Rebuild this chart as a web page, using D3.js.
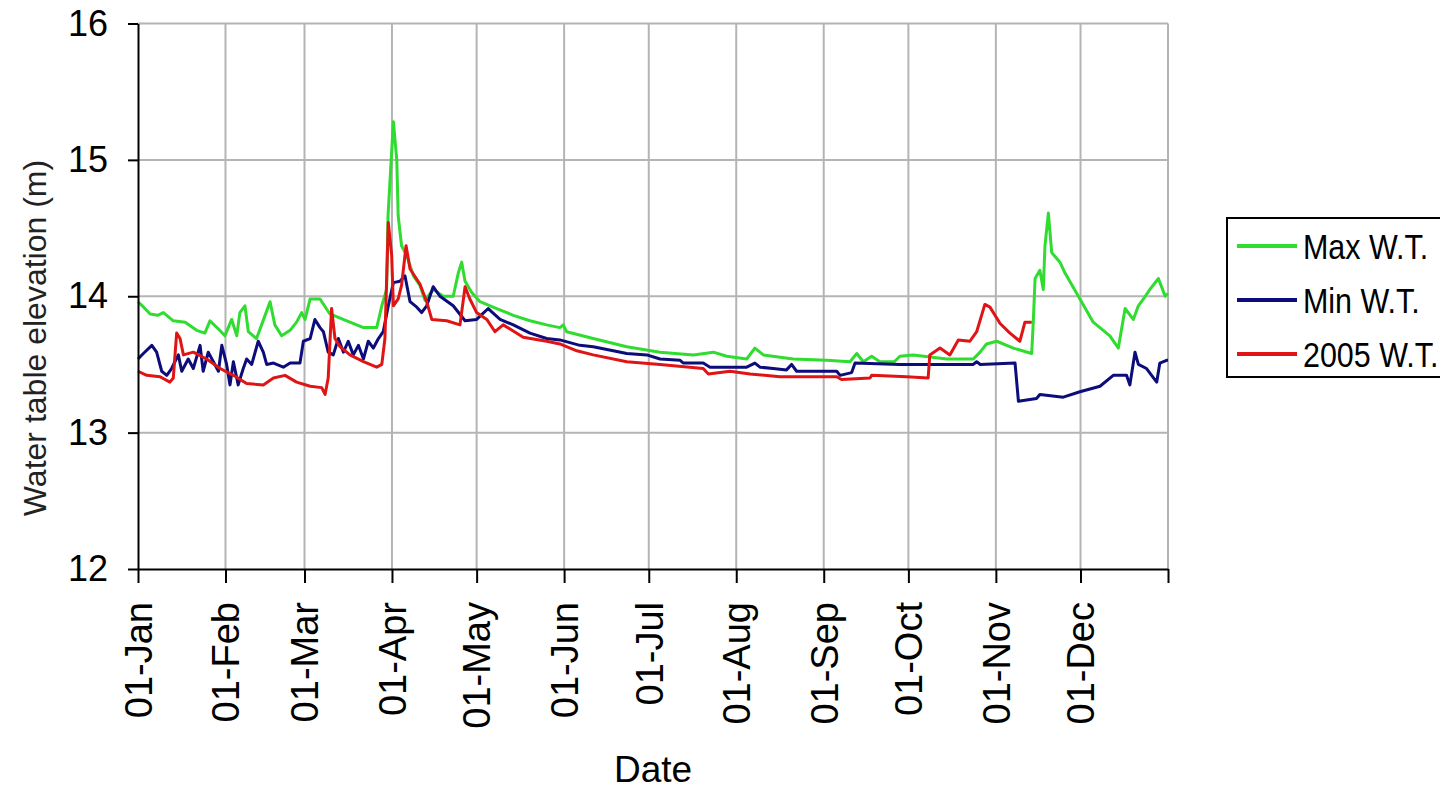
<!DOCTYPE html>
<html>
<head>
<meta charset="utf-8">
<script src="https://cdn.jsdelivr.net/npm/d3@7"></script>
<style>
  body { margin: 0; background: #fff; }
  svg { display: block; font-family: "Liberation Sans", Arial, sans-serif; }
</style>
</head>
<body>
<div id="chart"></div>
<script>
// day of year (0 = 01-Jan) -> water table elevation (m)
const monthStarts = [0, 31, 59, 90, 120, 151, 181, 212, 243, 273, 304, 334];
const monthLabels = ['01-Jan', '01-Feb', '01-Mar', '01-Apr', '01-May', '01-Jun',
  '01-Jul', '01-Aug', '01-Sep', '01-Oct', '01-Nov', '01-Dec'];
const yTicks = [12, 13, 14, 15, 16];

const maxWT = [
  [0, 13.96], [2, 13.92], [4.3, 13.87], [7, 13.86], [9, 13.88], [12.5, 13.82], [16.7, 13.81],
  [20.8, 13.75], [23.7, 13.73], [25.5, 13.82], [28.5, 13.76], [30.8, 13.71], [33.2, 13.83],
  [35, 13.71], [36.1, 13.88], [37.9, 13.93], [39.1, 13.74], [42, 13.69], [43.8, 13.79],
  [46.8, 13.96], [48.5, 13.79], [50.9, 13.71], [53.9, 13.75], [56.2, 13.81], [58, 13.88],
  [59.2, 13.83], [61, 13.98], [64.5, 13.98], [68, 13.87], [74, 13.82], [79.9, 13.77],
  [84.6, 13.77], [86.4, 13.93], [88.1, 14.05], [88.6, 14.59], [90.5, 15.28], [91.7, 15.0],
  [92.2, 14.59], [93.4, 14.37], [95.2, 14.3], [97.6, 14.15], [99.9, 14.08], [101.7, 13.97],
  [104.6, 14.05], [108.2, 14.0], [111.7, 14.0], [113.5, 14.17], [114.7, 14.25], [115.9, 14.11],
  [118.2, 14.03], [121.2, 13.96], [127.1, 13.91], [133, 13.86], [138.9, 13.82], [144.8, 13.79],
  [149.5, 13.77], [150.7, 13.79], [151.9, 13.74], [161.3, 13.69], [173.2, 13.63], [185, 13.59],
  [196.8, 13.57], [203.9, 13.59], [208.6, 13.56], [215.7, 13.54], [218.6, 13.62], [221.6, 13.57],
  [232.2, 13.54], [244, 13.53], [252.3, 13.52], [254.7, 13.58], [257, 13.52], [260, 13.56],
  [262.9, 13.52], [268, 13.52], [270, 13.56], [274.7, 13.57], [286.6, 13.54], [296, 13.54],
  [298.4, 13.59], [300.7, 13.65], [304.3, 13.67], [310.2, 13.62], [316.7, 13.58], [317.3, 13.83],
  [317.9, 14.13], [319.6, 14.19], [320.8, 14.05], [321.4, 14.37], [322.6, 14.61], [323.8, 14.32],
  [326.7, 14.25], [328.5, 14.17], [333.8, 13.98], [338.5, 13.81], [344.4, 13.71], [347.4, 13.62],
  [349.8, 13.91], [352.7, 13.83], [354.5, 13.93], [356.3, 13.98], [358.6, 14.05], [361.6, 14.13],
  [364, 14.0], [365, 14.02]
];

const minWT = [
  [0, 13.54], [1.9, 13.58], [4.9, 13.64], [6.6, 13.59], [8.4, 13.45], [10.2, 13.42], [11.9, 13.47],
  [14.3, 13.57], [15.5, 13.45], [17.8, 13.54], [19.6, 13.47], [22, 13.64], [23.1, 13.45],
  [24.9, 13.59], [26.7, 13.52], [28.5, 13.45], [29.7, 13.64], [31.4, 13.5], [32.6, 13.35],
  [33.8, 13.52], [35.5, 13.35], [37.3, 13.47], [38.5, 13.54], [40.3, 13.5], [42.6, 13.67],
  [44.4, 13.59], [45.6, 13.5], [48, 13.51], [51.5, 13.48], [53.9, 13.51], [57.4, 13.51],
  [58.6, 13.67], [61, 13.69], [62.7, 13.83], [64.5, 13.77], [65.7, 13.74], [67.4, 13.59],
  [69.2, 13.57], [71, 13.69], [72.8, 13.59], [74.5, 13.67], [76.3, 13.57], [78.1, 13.64],
  [79.9, 13.54], [81.6, 13.67], [83.4, 13.62], [85.2, 13.69], [86.9, 13.74], [88.7, 13.93],
  [90.5, 14.1], [92.8, 14.11], [94.6, 14.15], [96.4, 13.96], [98.8, 13.92], [100.5, 13.88],
  [102.3, 13.93], [104.6, 14.07], [107, 14.0], [111.7, 13.93], [115.9, 13.82], [120, 13.83],
  [124.1, 13.91], [128.3, 13.83], [133, 13.79], [138.9, 13.73], [144.8, 13.69], [149.5, 13.68],
  [156.6, 13.64], [161.3, 13.63], [168.4, 13.6], [173.2, 13.58], [180.3, 13.57], [185, 13.54],
  [192.1, 13.53], [193.3, 13.51], [200.3, 13.51], [202.7, 13.48], [215.7, 13.48], [218.6, 13.51],
  [220.4, 13.48], [225.1, 13.47], [229.8, 13.46], [231.6, 13.5], [233.4, 13.45], [247.6, 13.45],
  [248.8, 13.42], [252.9, 13.44], [254.1, 13.51], [270, 13.5], [296, 13.5], [297.2, 13.52],
  [298.5, 13.5], [310.8, 13.51], [312, 13.23], [318.4, 13.25], [319.6, 13.28], [327.9, 13.26],
  [333.8, 13.3], [340.9, 13.34], [345.6, 13.42], [350.3, 13.42], [351.5, 13.35], [353.3, 13.59],
  [354.5, 13.5], [357.4, 13.47], [361, 13.37], [362.1, 13.51], [364.5, 13.53], [365, 13.53]
];

const wt2005 = [
  [0, 13.45], [3.1, 13.42], [7.8, 13.41], [11.3, 13.37], [12.5, 13.4], [13.7, 13.73], [14.9, 13.69],
  [16.1, 13.57], [19.6, 13.59], [24.3, 13.54], [29.1, 13.47], [33.8, 13.42], [38.5, 13.36],
  [44.4, 13.35], [48, 13.4], [52.1, 13.42], [56.2, 13.37], [61, 13.34], [65.1, 13.33], [66.3, 13.28],
  [67.4, 13.4], [68.6, 13.91], [69.8, 13.69], [71.6, 13.63], [75.1, 13.57], [79.9, 13.52],
  [84.6, 13.48], [86.4, 13.5], [87.5, 13.69], [88.7, 14.54], [89.9, 14.3], [90.5, 13.93],
  [92.2, 13.98], [93.4, 14.08], [95, 14.37], [96.4, 14.2], [99.9, 14.09], [102.3, 13.96],
  [104.1, 13.83], [109.4, 13.82], [114.1, 13.79], [115.9, 14.07], [117.6, 13.98], [120, 13.88],
  [123.6, 13.83], [126.5, 13.74], [129.4, 13.79], [136.5, 13.7], [144.8, 13.67], [149.5, 13.65],
  [155.5, 13.6], [161.3, 13.57], [173.2, 13.52], [185, 13.5], [200.3, 13.47], [202.1, 13.43],
  [209.8, 13.45], [216.9, 13.43], [227.5, 13.41], [247.6, 13.41], [249.3, 13.39], [259.4, 13.4],
  [260, 13.42], [272.4, 13.41], [280, 13.4], [280.6, 13.57], [284.2, 13.62], [287.7, 13.57],
  [290.7, 13.68], [294.8, 13.67], [297.2, 13.74], [300.1, 13.94], [301.9, 13.92], [305.5, 13.8],
  [309, 13.73], [312.5, 13.67], [314.3, 13.81], [316.7, 13.81]
];

const seriesNames = ['Max W.T.', 'Min W.T.', '2005 W.T.'];
const seriesColors = ['#2fdc2f', '#0c0c7a', '#e01414'];
const seriesData = [maxWT, minWT, wt2005];

const W = 1440, H = 791;
const plot = { left: 138, right: 1168, top: 23.5, bottom: 569 };

const svg = d3.select('#chart').append('svg')
  .attr('width', W)
  .attr('height', H)
  .attr('viewBox', `0 0 ${W} ${H}`);

svg.append('rect').attr('width', W).attr('height', H).attr('fill', '#fff');

const x = d3.scaleLinear().domain([0, 365]).range([plot.left, plot.right]);
const y = d3.scaleLinear().domain([12, 16]).range([plot.bottom, plot.top]);

// grid
const grid = svg.append('g').attr('stroke', '#b4b4b4').attr('stroke-width', 2);
grid.selectAll('.hg')
  .data(yTicks.filter(d => d > 12))
  .enter().append('line')
  .attr('x1', plot.left).attr('x2', plot.right)
  .attr('y1', d => y(d)).attr('y2', d => y(d));
grid.selectAll('.vg')
  .data(monthStarts.slice(1).concat([365]))
  .enter().append('line')
  .attr('x1', d => x(d)).attr('x2', d => x(d))
  .attr('y1', plot.top).attr('y2', plot.bottom);

// series
const line = d3.line().x(d => x(d[0])).y(d => y(d[1]));
seriesData.forEach((s, i) => {
  svg.append('path')
    .datum(s)
    .attr('d', line)
    .attr('fill', 'none')
    .attr('stroke', seriesColors[i])
    .attr('stroke-width', 3)
    .attr('stroke-linejoin', 'round');
});

// axes
const yAxisG = svg.append('g')
  .attr('transform', `translate(${plot.left},0)`)
  .call(d3.axisLeft(y).tickValues(yTicks).tickFormat(d3.format('d')).tickSize(10).tickSizeOuter(0).tickPadding(20));
yAxisG.select('.domain').attr('stroke', '#000').attr('stroke-width', 2);
yAxisG.selectAll('.tick line').attr('stroke', '#000').attr('stroke-width', 2);
yAxisG.selectAll('text')
  .attr('font-size', 36)
  .attr('font-family', '"Liberation Sans", Arial, sans-serif')
  .attr('fill', '#000');

const xAxisG = svg.append('g')
  .attr('transform', `translate(0,${plot.bottom})`)
  .call(d3.axisBottom(x)
    .tickValues(monthStarts.concat([365]))
    .tickFormat((d, i) => monthLabels[i] || '')
    .tickSize(14).tickSizeOuter(0));
xAxisG.select('.domain').attr('stroke', '#000').attr('stroke-width', 2);
xAxisG.selectAll('.tick line').attr('stroke', '#000').attr('stroke-width', 2);
xAxisG.selectAll('text')
  .attr('font-size', 38)
  .attr('font-family', '"Liberation Sans", Arial, sans-serif')
  .attr('fill', '#000')
  .attr('transform', 'rotate(-90)')
  .attr('text-anchor', 'end')
  .attr('x', -33)
  .attr('y', 0)
  .attr('dy', '0.35em');

// axis titles
svg.append('text')
  .attr('transform', `translate(${(plot.left + plot.right) / 2},782)`)
  .attr('text-anchor', 'middle')
  .attr('font-size', 37)
  .attr('fill', '#000')
  .text('Date');

svg.append('text')
  .attr('transform', 'translate(46,338) rotate(-90)')
  .attr('text-anchor', 'middle')
  .attr('font-size', 32)
  .attr('fill', '#222')
  .text('Water table elevation (m)');

// legend
const legend = svg.append('g').attr('transform', 'translate(1227,218)');
legend.append('rect')
  .attr('width', 230).attr('height', 159)
  .attr('fill', '#fff').attr('stroke', '#000').attr('stroke-width', 2);
seriesNames.forEach((name, i) => {
  const cy = 28 + i * 54;
  legend.append('line')
    .attr('x1', 10).attr('x2', 70)
    .attr('y1', cy).attr('y2', cy)
    .attr('stroke', seriesColors[i]).attr('stroke-width', 4);
  legend.append('text')
    .attr('transform', `translate(76,${cy + 13}) scale(0.87,1)`)
    .attr('font-size', 35)
    .attr('fill', '#000')
    .text(name);
});
</script>
</body>
</html>
